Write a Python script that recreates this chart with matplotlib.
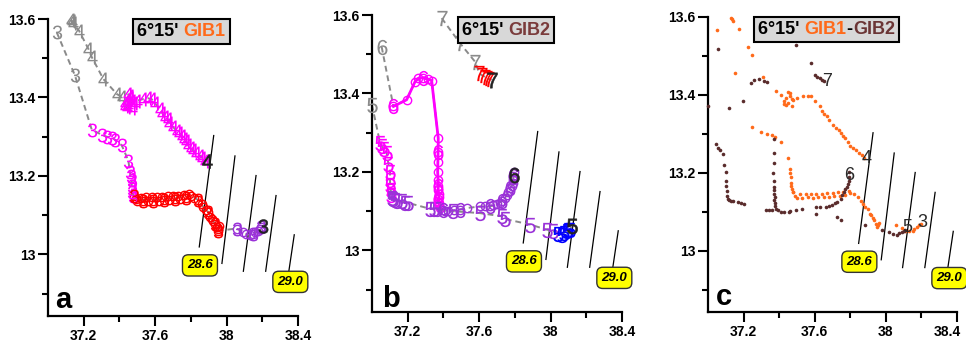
import numpy as np
import matplotlib.pyplot as plt
from matplotlib.offsetbox import TextArea, HPacker, AnnotationBbox
from matplotlib.transforms import ScaledTranslation

plt.rcParams['font.family'] = ['Liberation Sans', 'DejaVu Sans']

# ---------------- GIB1 : profile 3 ----------------
s3_grey = [37.049, 37.151]
t3_grey = [13.566, 13.456]
s3_mag = [37.245, 37.300, 37.329, 37.360, 37.375, 37.413, 37.450, 37.459,
          37.462, 37.469, 37.469, 37.469, 37.473, 37.478]
t3_mag = [13.318, 13.305, 13.300, 13.297, 13.292, 13.278, 13.239, 13.210,
          13.200, 13.189, 13.175, 13.167, 13.158, 13.150]
s3_red = [37.48, 37.49, 37.50, 37.52, 37.53, 37.55, 37.56, 37.58, 37.59, 37.61,
          37.62, 37.64, 37.65, 37.67, 37.68, 37.70, 37.71, 37.73, 37.74, 37.76,
          37.77, 37.79, 37.80, 37.82, 37.842, 37.86, 37.87, 37.885, 37.898,
          37.91, 37.917, 37.925, 37.935, 37.945, 37.954, 37.96, 37.95]
t3_red = [13.150, 13.140, 13.135, 13.145, 13.136, 13.146, 13.137, 13.146,
          13.136, 13.146, 13.137, 13.147, 13.138, 13.148, 13.139, 13.149,
          13.140, 13.150, 13.141, 13.152, 13.143, 13.153, 13.148, 13.145,
          13.138, 13.128, 13.121, 13.112, 13.108, 13.095, 13.091, 13.085,
          13.078, 13.070, 13.066, 13.072, 13.060]
s3_pur = [38.056, 38.09, 38.11, 38.13, 38.15, 38.16, 38.175, 38.185, 38.195]
t3_pur = [13.066, 13.058, 13.052, 13.050, 13.052, 13.056, 13.060, 13.065, 13.070]
s3_end, t3_end = 38.205, 13.072

# ---------------- GIB1 : profile 4 ----------------
s4_grey = [37.128, 37.133, 37.138, 37.174, 37.226, 37.245, 37.310, 37.385, 37.413]
t4_grey = [13.598, 13.594, 13.590, 13.570, 13.524, 13.503, 13.447, 13.409, 13.401]
s4_mag = [37.43, 37.44, 37.45, 37.46, 37.47, 37.44, 37.46, 37.48, 37.45, 37.47,
          37.43, 37.50, 37.534, 37.56, 37.58, 37.60, 37.627, 37.64, 37.655,
          37.67, 37.68, 37.702, 37.72, 37.735, 37.749, 37.76, 37.77, 37.786,
          37.80, 37.814, 37.83, 37.851, 37.865, 37.879]
t4_mag = [13.385, 13.392, 13.380, 13.398, 13.390, 13.375, 13.404, 13.386,
          13.408, 13.372, 13.378, 13.392, 13.396, 13.398, 13.396, 13.385,
          13.371, 13.360, 13.350, 13.345, 13.335, 13.324, 13.315, 13.310,
          13.303, 13.295, 13.290, 13.278, 13.270, 13.265, 13.258, 13.252,
          13.245, 13.239]
s4_end, t4_end = 37.892, 13.237

# ---------------- GIB2 : profile 5 ----------------
s5_grey = [37.0]
t5_grey = [13.371]
s5_mag = [37.045, 37.054, 37.070, 37.082, 37.092, 37.101, 37.101, 37.101, 37.105, 37.108]
t5_mag = [13.274, 13.265, 13.258, 13.248, 13.220, 13.201, 13.180, 13.167, 13.153, 13.140]
s5_pur = [37.110, 37.120, 37.129, 37.140, 37.166, 37.185, 37.203, 37.325, 37.345,
          37.362, 37.455, 37.605, 37.726, 37.745, 37.885, 37.978, 38.015]
t5_pur = [13.134, 13.130, 13.129, 13.127, 13.125, 13.122, 13.121, 13.106, 13.106,
          13.106, 13.100, 13.095, 13.087, 13.080, 13.066, 13.053, 13.049]
s5_blue = [38.040, 38.062, 38.075, 38.090, 38.100, 38.109]
t5_blue = [13.043, 13.040, 13.045, 13.049, 13.051, 13.053]
s5_end, t5_end = 38.118, 13.061

# ---------------- GIB2 : profile 6 ----------------
s6_grey = [37.054]
t6_grey = [13.519]
s6_mag = [37.120, 37.194, 37.241, 37.260, 37.285, 37.315, 37.334, 37.371, 37.370,
          37.369, 37.368, 37.370, 37.372, 37.370, 37.373, 37.375, 37.372, 37.376,
          37.378, 37.380]
t6_mag = [13.367, 13.384, 13.430, 13.439, 13.440, 13.436, 13.433, 13.286, 13.250,
          13.225, 13.200, 13.180, 13.165, 13.155, 13.145, 13.137, 13.130, 13.122,
          13.115, 13.108]
s6_pur = [37.395, 37.41, 37.427, 37.46, 37.493, 37.53, 37.605, 37.63, 37.661,
          37.68, 37.698, 37.715, 37.726, 37.745, 37.755, 37.763, 37.772, 37.782,
          37.788, 37.791, 37.791, 37.793]
t6_pur = [13.104, 13.100, 13.100, 13.102, 13.104, 13.108, 13.112, 13.112, 13.112,
          13.115, 13.117, 13.122, 13.125, 13.134, 13.142, 13.150, 13.158, 13.163,
          13.172, 13.180, 13.190, 13.201]
s6_end, t6_end = 37.795, 13.193

# ---------------- GIB2 : profile 7 ----------------
s7_grey = [37.39, 37.493, 37.577]
t7_grey = [13.592, 13.528, 13.481]
s7_red = [37.600, 37.614, 37.630, 37.642, 37.655]
t7_red = [13.452, 13.447, 13.443, 13.439, 13.437]
s7_end, t7_end = 37.67, 13.435

# ---------------- isopycnals ----------------
iso_s_top = [37.928, 38.047, 38.165, 38.277, 38.379]
iso_t_top = [13.303, 13.251, 13.201, 13.150, 13.050]
iso_s_bot = [37.847, 37.974, 38.094, 38.219, 38.348]
iso_t_bot = [13.019, 12.977, 12.957, 12.957, 12.955]
iso_labels = ['28.6', '29.0']
iso_label_s = [37.851, 38.357]
iso_label_t = [12.972, 12.930]

xticks = [37.2, 37.6, 38.0, 38.4]
xtick_labels = ['37.2', '37.6', '38', '38.4']
yticks = [13.0, 13.2, 13.4, 13.6]
ytick_labels = ['13', '13.2', '13.4', '13.6']

GREY = '#8a8a8a'
MAG = '#ff00ff'
RED = '#ff0000'
PUR = '#9a32d8'
BLUE = '#0000ff'
DARK = '#222222'
ORANGE = '#ff6a1a'
BROWN = '#5a2c2c'


def digit(n):
    return r'$\mathregular{%s}$' % n


def setup(ax, letter, lx, ly):
    ax.set_xlim(37.0, 38.4)
    ax.set_ylim(12.843, 13.6)
    for sp in ['top', 'right']:
        ax.spines[sp].set_visible(False)
    for sp in ['left', 'bottom']:
        ax.spines[sp].set_linewidth(1.6)
    ax.set_xticks(xticks, xtick_labels, fontweight='bold', fontsize=10)
    ax.set_yticks(yticks, ytick_labels, fontweight='bold', fontsize=10)
    ax.set_xticks([37.4, 37.8, 38.2], minor=True)
    ax.set_yticks([12.9, 13.1, 13.3, 13.5], minor=True)
    ax.tick_params(which='major', direction='out', length=7, width=1.5, pad=2)
    ax.tick_params(which='minor', direction='out', length=4, width=1.5)
    ax.text(lx, ly, letter, transform=ax.transAxes, fontsize=21,
            fontweight='bold', ha='left', va='baseline')
    # isopycnals
    for i in range(len(iso_s_top)):
        ax.plot([iso_s_bot[i], iso_s_top[i]], [iso_t_bot[i], iso_t_top[i]],
                color='black', lw=0.9, zorder=1)
    for lab, s, t in zip(iso_labels, iso_label_s, iso_label_t):
        ax.text(s, t, lab, fontsize=9.5, fontweight='bold', style='italic',
                ha='center', va='center', zorder=6,
                bbox=dict(boxstyle='round,pad=0.35,rounding_size=0.45',
                          facecolor='#ffff00', edgecolor='#333333', lw=1))


def title_box(ax, parts, xy):
    areas = [TextArea(t, textprops=dict(color=c, fontsize=13, fontweight='bold'))
             for t, c in parts]
    pack = HPacker(children=areas, align='baseline', pad=0, sep=0)
    ab = AnnotationBbox(pack, xy, xycoords='axes fraction', frameon=True,
                        pad=0.25, box_alignment=(0.5, 0.5), zorder=8,
                        bboxprops=dict(boxstyle='square', facecolor='#d8d8d8',
                                       edgecolor='black', linewidth=1.5))
    ax.add_artist(ab)


def profile(ax, n, segs, end, ms=10):
    ss = np.concatenate([s for s, t, c, circ in segs] + [[end[0]]])
    tt = np.concatenate([t for s, t, c, circ in segs] + [[end[1]]])
    ax.plot(ss, tt, color=GREY, lw=1.4, ls=(0, (3, 2)), zorder=2)
    for s, t, c, circ in segs:
        if circ:
            ax.plot(s, t, 'o', ms=6, mfc='none', mec=c, mew=1.0, zorder=3,
                    clip_on=False)
            ax.plot(s[::4], t[::4], ls='none', marker=digit(n), ms=ms, color=c,
                    mew=0, zorder=4, clip_on=False)
        else:
            ax.plot(s, t, ls='none', marker=digit(n), ms=ms, color=c, mew=0,
                    zorder=4, clip_on=False)
    ax.plot(end[0], end[1], ls='none', marker=digit(n), ms=ms, color=DARK,
            mew=0.4, mec=DARK, zorder=5, clip_on=False)


fig = plt.figure(figsize=(9.66, 3.41), dpi=100)
ax_a = fig.add_axes([48 / 966, 25 / 341, 250 / 966, 297 / 341])
ax_b = fig.add_axes([372 / 966, 29 / 341, 250 / 966, 297 / 341])
ax_c = fig.add_axes([708 / 966, 29 / 341, 249 / 966, 295 / 341])

# ---- panel a : GIB1
setup(ax_a, 'a', 0.028, 0.027)
profile(ax_a, 4, [(s4_grey, t4_grey, GREY, False), (s4_mag, t4_mag, MAG, False)],
        (s4_end, t4_end))
profile(ax_a, 3, [(s3_grey, t3_grey, GREY, False), (s3_mag, t3_mag, MAG, False),
                  (s3_red, t3_red, RED, True), (s3_pur, t3_pur, PUR, True)],
        (s3_end, t3_end))
title_box(ax_a, [("6°15' ", 'black'), ('GIB1', ORANGE)], (0.534, 0.957))

# ---- panel b : GIB2
setup(ax_b, 'b', 0.039, 0.017)
profile(ax_b, 7, [(s7_grey, t7_grey, GREY, False), (s7_red, t7_red, RED, False)],
        (s7_end, t7_end), ms=11)
profile(ax_b, 5, [(s5_grey, t5_grey, GREY, False), (s5_mag, t5_mag, MAG, False),
                  (s5_pur, t5_pur, PUR, False), (s5_blue, t5_blue, BLUE, False)],
        (s5_end, t5_end), ms=11)
ax_b.plot(s6_mag, t6_mag, color=MAG, lw=2, zorder=2.5)
profile(ax_b, 6, [(s6_grey, t6_grey, GREY, False), (s6_mag, t6_mag, MAG, True),
                  (s6_pur, t6_pur, PUR, True)],
        (s6_end, t6_end), ms=11)
title_box(ax_b, [("6°15' ", 'black'), ('GIB2', '#7a3b3b')], (0.536, 0.949))

# ---- panel c : GIB1 - GIB2
setup(ax_c, 'c', 0.031, 0.024)
gib1_s = np.concatenate([s3_grey, s3_mag, s3_red, s3_pur, s4_grey, s4_mag])
gib1_t = np.concatenate([t3_grey, t3_mag, t3_red, t3_pur, t4_grey, t4_mag])
gib2_s = np.concatenate([s5_grey, s5_mag, s5_pur, s5_blue, s6_grey, s6_mag,
                         s6_pur, s7_grey, s7_red])
gib2_t = np.concatenate([t5_grey, t5_mag, t5_pur, t5_blue, t6_grey, t6_mag,
                         t6_pur, t7_grey, t7_red])
ax_c.plot(gib1_s, gib1_t, 'o', ms=2.6, mfc=ORANGE, mec='none', zorder=3, clip_on=False)
ax_c.plot(gib2_s, gib2_t, 'o', ms=2.6, mfc=BROWN, mec='none', zorder=3, clip_on=False)
for lab, s, t in zip(['7', '6', '4', '5', '3'],
                     [s7_end, s6_end, s4_end, s5_end, s3_end],
                     [t7_end, t6_end, t4_end, t5_end, t3_end]):
    ax_c.text(s, t, lab, fontsize=13, color='#2a2a2a', ha='center',
              va='center', zorder=5)
title_box(ax_c, [("6°15' ", 'black'), ('GIB1', ORANGE), ('-', 'black'),
                 ('GIB2', '#6b3535')], (0.476, 0.958))

# keep the last x label of panel c inside the figure edge
last = ax_c.get_xticklabels()[-1]
last.set_transform(last.get_transform() + ScaledTranslation(-7 / 72, 0, fig.dpi_scale_trans))

fig.savefig('out.png', dpi=100)
